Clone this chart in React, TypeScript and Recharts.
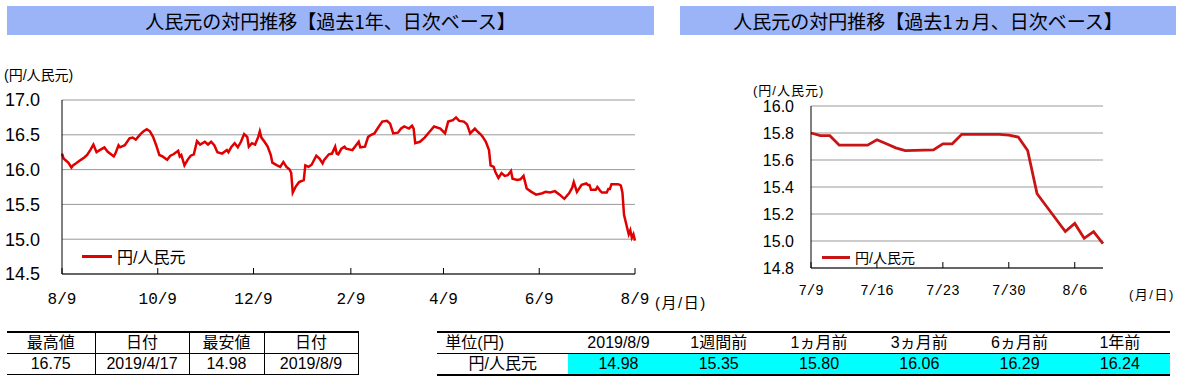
import React from 'react'
import { LineChart, Line, XAxis, YAxis, CartesianGrid, Legend } from 'recharts'

// 過去1年: 2018/8/9 からの経過日数と終値
const yearDays = [
  0, 1, 3, 4, 6, 7, 9, 12, 14, 16, 18, 20, 22, 24, 27, 29, 33, 34, 36, 37, 40, 43, 45, 47, 50, 52, 54, 56, 58, 60,
  62, 64, 67, 69, 71, 74, 75, 76, 78, 80, 82, 84, 86, 88, 91, 93, 95, 97, 99, 102, 105, 106, 108, 110, 112, 114, 116, 118, 119, 121,
  123, 125, 126, 127, 129, 131, 133, 134, 137, 139, 141, 143, 145, 146, 147, 149, 151, 154, 155, 157, 159, 162, 164, 166, 167, 170, 172, 174, 175, 176,
  178, 180, 181, 185, 189, 190, 193, 195, 197, 199, 201, 204, 207, 209, 211, 214, 216, 218, 221, 223, 224, 225, 228, 231, 234, 237, 241, 244, 246, 249,
  251, 253, 256, 258, 260, 263, 265, 267, 268, 270, 272, 273, 275, 276, 278, 280, 282, 284, 286, 287, 290, 292, 294, 295, 296, 299, 302, 306, 308, 311,
  314, 317, 320, 323, 325, 326, 328, 331, 334, 335, 336, 337, 340, 341, 342, 343, 344, 347, 348, 349, 350, 351, 354, 355, 356, 357, 358, 361, 362, 363,
  364, 365,
]
const yearRates = [
  16.23, 16.16, 16.12, 16.1, 16.03, 16.06, 16.09, 16.14, 16.17, 16.21, 16.28, 16.36, 16.25, 16.28, 16.32, 16.26, 16.19, 16.23, 16.35, 16.32, 16.35, 16.45, 16.46, 16.43, 16.51, 16.55, 16.58, 16.55, 16.47, 16.35,
  16.21, 16.19, 16.14, 16.2, 16.22, 16.27, 16.19, 16.21, 16.06, 16.14, 16.2, 16.22, 16.41, 16.36, 16.4, 16.36, 16.4, 16.35, 16.25, 16.23, 16.28, 16.25, 16.33, 16.38, 16.32, 16.4, 16.51, 16.47, 16.33, 16.38,
  16.36, 16.47, 16.55, 16.46, 16.4, 16.33, 16.21, 16.1, 16.06, 16.04, 16.11, 16.04, 16.0, 15.95, 15.67, 15.76, 15.82, 15.85, 16.06, 16.04, 16.07, 16.2, 16.16, 16.09, 16.14, 16.22, 16.23, 16.33, 16.23, 16.22,
  16.3, 16.33, 16.3, 16.28, 16.4, 16.32, 16.33, 16.47, 16.5, 16.52, 16.59, 16.69, 16.7, 16.66, 16.52, 16.53, 16.59, 16.62, 16.59, 16.63, 16.59, 16.38, 16.4, 16.46, 16.54, 16.62, 16.59, 16.52, 16.69, 16.71,
  16.75, 16.7, 16.69, 16.65, 16.52, 16.59, 16.54, 16.5, 16.47, 16.4, 16.28, 16.06, 16.04, 15.97, 15.88, 15.95, 15.91, 15.92, 15.98, 15.87, 15.85, 15.86, 15.91, 15.82, 15.73, 15.68, 15.64, 15.66, 15.68, 15.67,
  15.69, 15.64, 15.58, 15.66, 15.74, 15.82, 15.68, 15.78, 15.8, 15.78, 15.78, 15.71, 15.71, 15.75, 15.72, 15.69, 15.67, 15.67, 15.72, 15.72, 15.79, 15.79, 15.79, 15.785, 15.77, 15.67, 15.35, 15.07, 15.13, 15.02,
  15.07, 14.98,
]
const yearTickDays = [0, 61, 122, 184, 243, 304, 365]
const yearTickLabels = ['8/9', '10/9', '12/9', '2/9', '4/9', '6/9', '8/9']
const yearYTicks = [14.5, 15, 15.5, 16, 16.5, 17]

// 過去1ヵ月: 2019/7/9 からの経過日数
const monthDays = [0, 1, 2, 3, 6, 7, 8, 9, 10, 13, 14, 15, 16, 17, 20, 21, 22, 23, 24, 27, 28, 29, 30, 31]
const monthRates = [
  15.8, 15.78, 15.78, 15.71, 15.71, 15.75, 15.72, 15.69, 15.67, 15.675, 15.72, 15.72, 15.79, 15.79, 15.79, 15.785, 15.77, 15.67,
  15.35, 15.07, 15.13, 15.02, 15.07, 14.98,
]
const monthTickDays = [0, 7, 14, 21, 28]
const monthTickLabels = ['7/9', '7/16', '7/23', '7/30', '8/6']
const monthYTicks = [14.8, 15.0, 15.2, 15.4, 15.6, 15.8, 16.0]

const summaryHeaders = ['最高値', '日付', '最安値', '日付']
const summaryValues = ['16.75', '2019/4/17', '14.98', '2019/8/9']
const compareHeaders = ['単位(円)', '2019/8/9', '1週間前', '1ヵ月前', '3ヵ月前', '6ヵ月前', '1年前']
const compareValues = ['円/人民元', '14.98', '15.35', '15.80', '16.06', '16.29', '16.24']

const SERIES_NAME = '円/人民元'
const JP_FONT = '"Liberation Sans", "Noto Sans CJK JP", sans-serif'
const MONO_FONT = '"Liberation Mono", monospace'

const yearData = yearDays.map((day, i) => ({ day, rate: yearRates[i] }))
const monthData = monthDays.map((day, i) => ({ day, rate: monthRates[i] }))

// x-axis tick with a small inward mark above the axis line
const makeXTick = (ticks: number[], labels: string[], fontSize: number, dy: number) => (props: any) => {
  const { x, y, payload } = props
  const label = labels[ticks.indexOf(payload.value)]
  return (
    <g>
      <line x1={x} x2={x} y1={y} y2={y - 6} stroke="#000" strokeWidth={1} />
      <text x={x} y={y + dy} textAnchor="middle" fill="#000" fontSize={fontSize} fontFamily={MONO_FONT}>
        {label}
      </text>
    </g>
  )
}

const makeLegend = (color: string, fontSize: number, lineWidth: number) => () => (
  <div style={{ display: 'flex', alignItems: 'center', fontFamily: JP_FONT, fontSize, color: '#000', whiteSpace: 'nowrap' }}>
    <div style={{ width: lineWidth, height: 3, background: color, marginRight: 5 }} />
    <span>{SERIES_NAME}</span>
  </div>
)

const titleStyle: React.CSSProperties = {
  position: 'absolute',
  top: 6,
  height: 29,
  background: '#9bb3f7',
  fontFamily: '"Noto Sans CJK JP", sans-serif',
  fontSize: 19,
  lineHeight: '29px',
  textAlign: 'center',
  color: '#000',
}

const cell: React.CSSProperties = {
  padding: 0,
  height: 20,
  textAlign: 'center',
  fontFamily: JP_FONT,
  fontSize: 16,
  lineHeight: '20px',
  whiteSpace: 'nowrap',
}

export default function App() {
  return (
    <div style={{ position: 'absolute', left: 0, top: 0, width: 1183, height: 378, background: '#fff', overflow: 'hidden' }}>
      <div style={{ ...titleStyle, left: 7, width: 647 }}>人民元の対円推移【過去1年、日次ベース】</div>
      <div style={{ ...titleStyle, left: 680, width: 496 }}>人民元の対円推移【過去1ヵ月、日次ベース】</div>

      {/* 過去1年 */}
      <div style={{ position: 'absolute', left: 4, top: 64, fontFamily: JP_FONT, fontSize: 14 }}>(円/人民元)</div>
      <div style={{ position: 'absolute', left: 655, top: 291, fontFamily: JP_FONT, fontSize: 15, letterSpacing: 1.5 }}>(月/日)</div>
      <div style={{ position: 'absolute', left: 0, top: 0 }}>
        <LineChart width={660} height={310} data={yearData} margin={{ top: 100, right: 25, left: 0, bottom: 6 }}>
          <CartesianGrid vertical={false} stroke="#999" />
          <XAxis
            dataKey="day"
            type="number"
            domain={[0, 365]}
            ticks={yearTickDays}
            interval={0}
            height={30}
            stroke="#000"
            tickSize={0}
            tickMargin={0}
            tick={makeXTick(yearTickDays, yearTickLabels, 16, 30)}
          />
          <XAxis xAxisId="top" orientation="top" dataKey="day" type="number" domain={[0, 365]} height={0} tick={false} tickLine={false} stroke="#000" />
          <YAxis
            domain={[14.5, 17]}
            ticks={yearYTicks}
            interval={0}
            width={62}
            stroke="#000"
            tickLine={false}
            tickMargin={16}
            tickFormatter={(v: number) => v.toFixed(1)}
            tick={{ fill: '#000', fontSize: 18, fontFamily: JP_FONT }}
          />
          <YAxis yAxisId="right" orientation="right" domain={[14.5, 17]} width={0} tick={false} tickLine={false} stroke="#000" />
          <Legend
            layout="horizontal"
            verticalAlign="middle"
            align="center"
            wrapperStyle={{ left: 82, top: 244, width: 'auto' }}
            content={makeLegend('#e00000', 16, 30)}
          />
          <Line type="linear" dataKey="rate" name={SERIES_NAME} stroke="#e00000" strokeWidth={2.5} dot={false} isAnimationActive={false} />
        </LineChart>
      </div>

      {/* 過去1ヵ月 */}
      <div style={{ position: 'absolute', left: 753, top: 80, fontFamily: JP_FONT, fontSize: 13, letterSpacing: 1 }}>(円/人民元)</div>
      <div style={{ position: 'absolute', left: 1129, top: 284, fontFamily: JP_FONT, fontSize: 13, letterSpacing: 1.5 }}>(月/日)</div>
      <div style={{ position: 'absolute', left: 740, top: 0 }}>
        <LineChart width={400} height={300} data={monthData} margin={{ top: 106, right: 37, left: 0, bottom: 2 }}>
          <CartesianGrid vertical={false} stroke="#999" />
          <XAxis
            dataKey="day"
            type="number"
            domain={[0, 31]}
            ticks={monthTickDays}
            interval={0}
            height={30}
            stroke="#000"
            tickSize={0}
            tickMargin={0}
            tick={makeXTick(monthTickDays, monthTickLabels, 14, 27)}
          />
          <XAxis xAxisId="top" orientation="top" dataKey="day" type="number" domain={[0, 31]} height={0} tick={false} tickLine={false} stroke="#000" />
          <YAxis
            domain={[14.8, 16]}
            ticks={monthYTicks}
            interval={0}
            width={71}
            stroke="#000"
            tickLine={false}
            tickMargin={11}
            tickFormatter={(v: number) => v.toFixed(1)}
            tick={{ fill: '#000', fontSize: 16, fontFamily: JP_FONT }}
          />
          <YAxis yAxisId="right" orientation="right" domain={[14.8, 16]} width={0} tick={false} tickLine={false} stroke="#000" />
          <Legend
            layout="horizontal"
            verticalAlign="middle"
            align="center"
            wrapperStyle={{ left: 82, top: 247, width: 'auto' }}
            content={makeLegend('#c81414', 14, 28)}
          />
          <Line type="linear" dataKey="rate" name={SERIES_NAME} stroke="#c81414" strokeWidth={2.8} dot={false} isAnimationActive={false} />
        </LineChart>
      </div>

      {/* 最高値・最安値 */}
      <table style={{ position: 'absolute', left: 7, top: 331, borderCollapse: 'collapse', tableLayout: 'fixed', width: 351 }}>
        <colgroup>
          <col style={{ width: 88 }} />
          <col style={{ width: 94 }} />
          <col style={{ width: 75 }} />
          <col style={{ width: 94 }} />
        </colgroup>
        <tbody>
          <tr style={{ borderTop: '2px solid #000', borderBottom: '1px solid #000' }}>
            {summaryHeaders.map((h, i) => (
              <td key={i} style={{ ...cell, borderRight: '1px solid #000' }}>{h}</td>
            ))}
          </tr>
          <tr style={{ borderBottom: '1px solid #000' }}>
            {summaryValues.map((v, i) => (
              <td key={i} style={{ ...cell, borderRight: '1px solid #000' }}>{v}</td>
            ))}
          </tr>
        </tbody>
      </table>

      {/* 比較表 */}
      <table style={{ position: 'absolute', left: 437, top: 331, borderCollapse: 'collapse', tableLayout: 'fixed', width: 733 }}>
        <colgroup>
          <col style={{ width: 131 }} />
          {compareHeaders.slice(1).map((_, i) => (
            <col key={i} style={{ width: 100 }} />
          ))}
        </colgroup>
        <tbody>
          <tr style={{ borderTop: '2px solid #000', borderBottom: '1px solid #000' }}>
            {compareHeaders.map((h, i) => (
              <td key={i} style={{ ...cell, paddingRight: i === 0 ? 56 : 0 }}>{h}</td>
            ))}
          </tr>
          <tr style={{ borderBottom: '2px solid #000' }}>
            {compareValues.map((v, i) => (
              <td key={i} style={{ ...cell, background: i === 0 ? '#fff' : '#00ffff' }}>{v}</td>
            ))}
          </tr>
        </tbody>
      </table>
    </div>
  )
}
